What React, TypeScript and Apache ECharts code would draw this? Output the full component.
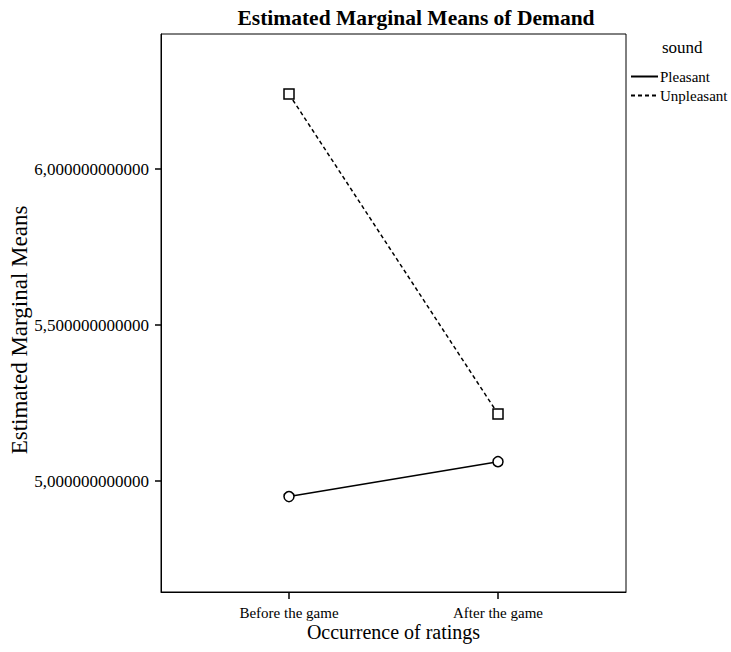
import React, { useEffect, useRef } from "react";
import * as echarts from "echarts";

const categories = ["Before the game", "After the game"];
const pleasant = [4.95, 5.062];
const unpleasant = [6.24, 5.215];
const yTicks = [5.0, 5.5, 6.0];
const seriesNames = ["Pleasant", "Unpleasant"];

const FONT = "'Liberation Serif', 'Times New Roman', serif";

export default function App() {
  const ref = useRef<HTMLDivElement>(null);
  useEffect(() => {
    if (!ref.current) return;
    const chart = echarts.init(ref.current, null, { renderer: "svg" });
    const toPts = (arr: number[]) => arr.map((v, i) => [i + 1, v]);
    chart.setOption({
      animation: false,
      backgroundColor: "#ffffff",
      textStyle: { fontFamily: FONT, color: "#000" },
      title: [
        {
          text: "Estimated Marginal Means of Demand",
          left: 411,
          textAlign: "center",
          top: 2,
          textStyle: { fontFamily: FONT, fontWeight: "bold", fontSize: 21.5, color: "#000" },
        },
        {
          text: "sound",
          left: 657,
          top: 34,
          textStyle: { fontFamily: FONT, fontWeight: "normal", fontSize: 17, color: "#000" },
        },
      ],
      legend: {
        orient: "vertical",
        left: 630,
        top: 69,
        padding: 0,
        itemGap: 4,
        itemWidth: 27,
        itemHeight: 12,
        data: seriesNames,
        itemStyle: { opacity: 0 },
        textStyle: { fontFamily: FONT, fontSize: 15, color: "#000", padding: [0, 0, 0, -3] },
      },
      grid: {
        left: 161,
        top: 34,
        width: 465,
        height: 558,
        show: true,
        borderColor: "#000",
        borderWidth: 1,
        backgroundColor: "transparent",
        containLabel: false,
        outerBoundsMode: "none",
      },
      xAxis: {
        type: "value",
        min: 1 - 128 / 209,
        max: 2 + 128 / 209,
        name: "Occurrence of ratings",
        nameLocation: "middle",
        nameGap: 30,
        nameMoveOverlap: false,
        nameTextStyle: { fontFamily: FONT, fontSize: 20, color: "#000" },
        splitLine: { show: false },
        axisLine: { show: true, lineStyle: { color: "#000", width: 1 } },
        axisTick: { show: true, customValues: [1, 2], length: 7, lineStyle: { color: "#000", width: 1.5 } },
        axisLabel: {
          customValues: [1, 2],
          margin: 13,
          fontFamily: FONT,
          fontSize: 15,
          color: "#000",
          formatter: (v: number) => categories[Math.round(v) - 1] ?? "",
        },
      },
      yAxis: {
        type: "value",
        min: 5 - 111 / 312,
        max: 6 + 135 / 312,
        name: "Estimated Marginal Means",
        nameLocation: "middle",
        nameGap: 130,
        nameMoveOverlap: false,
        nameRotate: 90,
        nameTextStyle: {
          fontFamily: FONT,
          fontSize: 23,
          color: "#000",
          padding: [0, 34, 0, 0],
        },
        splitLine: { show: false },
        axisLine: { show: true, lineStyle: { color: "#000", width: 1 } },
        axisTick: { show: true, customValues: yTicks, length: 6, lineStyle: { color: "#000", width: 1.5 } },
        axisLabel: {
          customValues: yTicks,
          margin: 12,
          fontFamily: FONT,
          fontSize: 17,
          color: "#000",
          formatter: (v: number) => v.toFixed(12).replace(".", ","),
        },
      },
      series: [
        {
          name: seriesNames[0],
          type: "line",
          data: toPts(pleasant),
          symbol: "circle",
          symbolSize: 10,
          lineStyle: { color: "#000", width: 1.5, type: "solid" },
          itemStyle: { color: "#fff", borderColor: "#000", borderWidth: 1.5 },
        },
        {
          name: seriesNames[1],
          type: "line",
          data: toPts(unpleasant),
          symbol: "rect",
          symbolSize: 10,
          lineStyle: { color: "#000", width: 1.5, type: [4, 3] },
          itemStyle: { color: "#fff", borderColor: "#000", borderWidth: 1.5 },
        },
      ],
    });
    return () => chart.dispose();
  }, []);
  return (
    <div
      ref={ref}
      style={{ position: "absolute", left: 0, top: 0, width: 731, height: 652, background: "#fff" }}
    />
  );
}
